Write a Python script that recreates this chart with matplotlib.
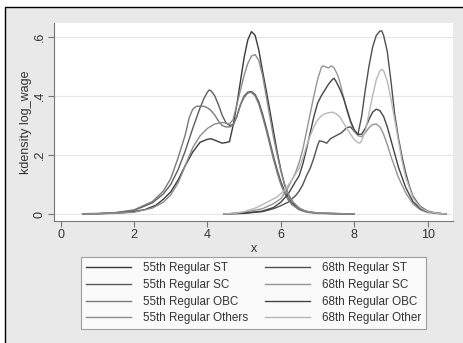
import matplotlib.pyplot as plt
from matplotlib.patches import Rectangle

plt.rcParams['font.family'] = ['Liberation Sans', 'DejaVu Sans']

# 55th round curves (x, density)
x55_st = [0.6, 1.0, 1.5, 2.0, 2.3, 2.6, 2.8, 3.0, 3.2, 3.4, 3.6, 3.8, 4.0, 4.1, 4.2, 4.4, 4.5, 4.6, 4.7,
          4.8, 4.9, 5.0, 5.1, 5.2, 5.3, 5.4, 5.5, 5.6, 5.7, 5.8, 5.9, 6.0, 6.1, 6.2, 6.3, 6.4, 6.6, 6.8,
          7.0, 7.5, 8.0]
y55_st = [0.001, 0.001, 0.003, 0.008, 0.015, 0.03, 0.05, 0.075, 0.115, 0.165, 0.21, 0.243, 0.253, 0.255,
          0.25, 0.24, 0.242, 0.245, 0.30, 0.37, 0.45, 0.53, 0.59, 0.618, 0.605, 0.555, 0.485, 0.42, 0.35,
          0.28, 0.21, 0.15, 0.10, 0.068, 0.045, 0.028, 0.012, 0.006, 0.003, 0.001, 0.0]

x55_sc = [0.6, 1.0, 1.5, 2.0, 2.5, 2.8, 3.0, 3.2, 3.4, 3.6, 3.8, 3.9, 4.0, 4.05, 4.1, 4.2, 4.3, 4.4, 4.5,
          4.6, 4.7, 4.8, 4.9, 5.0, 5.1, 5.2, 5.3, 5.4, 5.5, 5.6, 5.7, 5.8, 5.9, 6.0, 6.1, 6.2, 6.3, 6.5,
          6.7, 7.0, 8.0]
y55_sc = [0.001, 0.001, 0.004, 0.012, 0.038, 0.068, 0.10, 0.15, 0.215, 0.29, 0.36, 0.39, 0.413, 0.42,
          0.417, 0.40, 0.37, 0.335, 0.31, 0.30, 0.303, 0.33, 0.37, 0.40, 0.413, 0.415, 0.405, 0.38, 0.34,
          0.295, 0.245, 0.195, 0.15, 0.11, 0.08, 0.055, 0.037, 0.017, 0.008, 0.003, 0.0]

x55_obc = [0.6, 1.0, 1.5, 2.0, 2.5, 2.8, 3.0, 3.2, 3.4, 3.5, 3.6, 3.7, 3.9, 4.0, 4.1, 4.2, 4.3, 4.4, 4.5,
           4.6, 4.7, 4.8, 4.9, 5.0, 5.1, 5.2, 5.3, 5.4, 5.5, 5.6, 5.7, 5.8, 5.9, 6.0, 6.1, 6.2, 6.3, 6.5,
           6.7, 7.0, 8.0]
y55_obc = [0.001, 0.002, 0.005, 0.014, 0.042, 0.078, 0.12, 0.19, 0.27, 0.325, 0.355, 0.365, 0.365, 0.36,
           0.35, 0.335, 0.315, 0.30, 0.295, 0.295, 0.30, 0.33, 0.37, 0.395, 0.41, 0.412, 0.40, 0.372,
           0.33, 0.285, 0.235, 0.185, 0.14, 0.10, 0.07, 0.048, 0.032, 0.014, 0.006, 0.002, 0.0]

x55_oth = [0.6, 1.0, 1.5, 2.0, 2.5, 2.8, 3.0, 3.2, 3.4, 3.6, 3.8, 4.0, 4.2, 4.4, 4.6, 4.7, 4.8, 4.9, 5.0,
           5.1, 5.2, 5.3, 5.4, 5.5, 5.6, 5.7, 5.8, 5.9, 6.0, 6.1, 6.2, 6.3, 6.5, 6.7, 7.0, 8.0]
y55_oth = [0.0, 0.001, 0.002, 0.006, 0.02, 0.04, 0.065, 0.105, 0.165, 0.225, 0.265, 0.29, 0.305, 0.31,
           0.305, 0.32, 0.37, 0.42, 0.47, 0.51, 0.535, 0.54, 0.52, 0.47, 0.40, 0.33, 0.26, 0.20, 0.145,
           0.10, 0.068, 0.045, 0.02, 0.009, 0.004, 0.0]

# 68th round curves
x68_st = [4.45, 5.0, 5.5, 5.8, 6.0, 6.2, 6.4, 6.5, 6.6, 6.7, 6.8, 6.9, 7.0, 7.05, 7.15, 7.25, 7.35, 7.5,
          7.65, 7.8, 7.9, 8.0, 8.1, 8.2, 8.3, 8.4, 8.5, 8.6, 8.7, 8.75, 8.8, 8.9, 9.0, 9.1, 9.2, 9.3,
          9.4, 9.5, 9.6, 9.8, 10.0, 10.2, 10.5]
y68_st = [0.0, 0.002, 0.008, 0.018, 0.028, 0.04, 0.062, 0.078, 0.10, 0.13, 0.155, 0.19, 0.232, 0.248,
          0.245, 0.24, 0.255, 0.265, 0.275, 0.293, 0.295, 0.28, 0.27, 0.33, 0.42, 0.50, 0.565, 0.605,
          0.62, 0.62, 0.605, 0.55, 0.45, 0.34, 0.26, 0.195, 0.14, 0.095, 0.06, 0.025, 0.01, 0.004, 0.0]

x68_sc = [4.45, 5.0, 5.5, 5.8, 6.0, 6.2, 6.4, 6.5, 6.6, 6.7, 6.8, 6.9, 7.0, 7.1, 7.15, 7.25, 7.3, 7.38,
          7.45, 7.55, 7.6, 7.7, 7.8, 7.9, 8.0, 8.1, 8.2, 8.3, 8.4, 8.5, 8.6, 8.7, 8.8, 8.9, 9.0, 9.2,
          9.4, 9.6, 9.8, 10.0, 10.3, 10.5]
y68_sc = [0.0, 0.006, 0.018, 0.035, 0.052, 0.09, 0.14, 0.175, 0.22, 0.28, 0.34, 0.40, 0.455, 0.495, 0.502,
          0.497, 0.495, 0.502, 0.495, 0.47, 0.45, 0.40, 0.35, 0.31, 0.28, 0.265, 0.262, 0.275, 0.292,
          0.303, 0.305, 0.295, 0.27, 0.235, 0.195, 0.125, 0.072, 0.034, 0.014, 0.005, 0.001, 0.0]

x68_obc = [4.45, 5.0, 5.5, 5.8, 6.0, 6.2, 6.4, 6.5, 6.6, 6.7, 6.8, 6.9, 7.0, 7.1, 7.2, 7.3, 7.4, 7.45,
           7.5, 7.6, 7.7, 7.8, 7.9, 8.0, 8.1, 8.2, 8.3, 8.4, 8.5, 8.6, 8.7, 8.8, 8.9, 9.0, 9.2, 9.4, 9.6,
           9.8, 10.0, 10.3, 10.5]
y68_obc = [0.0, 0.003, 0.01, 0.022, 0.04, 0.068, 0.11, 0.13, 0.17, 0.22, 0.275, 0.33, 0.375, 0.40, 0.42,
           0.44, 0.455, 0.46, 0.45, 0.425, 0.395, 0.355, 0.315, 0.285, 0.27, 0.27, 0.29, 0.32, 0.345,
           0.355, 0.35, 0.33, 0.295, 0.25, 0.16, 0.09, 0.042, 0.018, 0.007, 0.002, 0.0]

x68_oth = [4.45, 4.8, 5.0, 5.3, 5.6, 5.9, 6.1, 6.3, 6.5, 6.6, 6.7, 6.8, 6.9, 7.0, 7.1, 7.2, 7.3, 7.4, 7.5,
           7.6, 7.7, 7.8, 7.9, 8.0, 8.1, 8.15, 8.2, 8.3, 8.4, 8.5, 8.6, 8.7, 8.75, 8.8, 8.9, 9.0, 9.1,
           9.2, 9.3, 9.4, 9.6, 9.8, 10.0, 10.3, 10.5]
y68_oth = [0.0, 0.003, 0.008, 0.02, 0.038, 0.058, 0.08, 0.115, 0.155, 0.19, 0.23, 0.265, 0.295, 0.318,
           0.332, 0.34, 0.343, 0.345, 0.34, 0.33, 0.31, 0.29, 0.27, 0.252, 0.242, 0.24, 0.248, 0.28, 0.34,
           0.40, 0.455, 0.485, 0.49, 0.485, 0.45, 0.39, 0.32, 0.25, 0.18, 0.125, 0.055, 0.022, 0.008,
           0.002, 0.0]

series = [
    ('55th Regular ST', x55_st, y55_st, '#3a3a3a'),
    ('68th Regular ST', x68_st, y68_st, '#505050'),
    ('55th Regular SC', x55_sc, y55_sc, '#5c5c5c'),
    ('68th Regular SC', x68_sc, y68_sc, '#959595'),
    ('55th Regular OBC', x55_obc, y55_obc, '#7a7a7a'),
    ('68th Regular OBC', x68_obc, y68_obc, '#444444'),
    ('55th Regular Others', x55_oth, y55_oth, '#8c8c8c'),
    ('68th Regular Other', x68_oth, y68_oth, '#b8b8b8'),
]

fig = plt.figure(figsize=(4.63, 3.43), dpi=100)
fig.patch.set_facecolor('white')
fig.patches.append(Rectangle((5 / 463, -0.05), 1.1, 1 - 7 / 343 + 0.05, transform=fig.transFigure,
                             facecolor='#e9e9e9', edgecolor='black', linewidth=1.0, zorder=-5))

ax = fig.add_axes([54 / 463, 1 - 221 / 343, 399 / 463, 198 / 343])
ax.set_zorder(2)
ax.set_facecolor('white')

lines = {}
for name, xs, ys, col in series:
    lines[name], = ax.plot(xs, ys, color=col, linewidth=1.0)

ax.set_xlim(-0.18, 10.69)
ax.set_ylim(-0.0237, 0.647)
ax.set_xticks([0, 2, 4, 6, 8, 10])
ax.set_yticks([0, 0.2, 0.4, 0.6])
ax.set_yticklabels(['0', '.2', '.4', '.6'], rotation=90, va='center')
ax.grid(axis='y', color='#e6e6e6', linewidth=0.8)
ax.set_axisbelow(True)
for s in ['top', 'right']:
    ax.spines[s].set_visible(False)
for s in ['left', 'bottom']:
    ax.spines[s].set_color('#777777')
    ax.spines[s].set_linewidth(0.8)
ax.tick_params(colors='#777777', labelcolor='#333333', labelsize=9, length=4, width=0.8, pad=2)
ax.set_xlabel('x', fontsize=9, color='#333333', labelpad=1)
ax.set_ylabel('kdensity log_wage', fontsize=9, color='#333333', labelpad=1)

order = ['55th Regular ST', '55th Regular SC', '55th Regular OBC', '55th Regular Others',
         '68th Regular ST', '68th Regular SC', '68th Regular OBC', '68th Regular Other']
leg = fig.legend([lines[n] for n in order], order, ncol=2, loc='center',
                 bbox_to_anchor=(253.5 / 463, 1 - 293.3 / 343), fontsize=8.35, frameon=True,
                 fancybox=False, edgecolor='#888888', handlelength=3.9, handletextpad=1.0,
                 columnspacing=1.5, labelspacing=0.4, borderpad=0.45)
leg.get_frame().set_linewidth(0.8)
leg.set_zorder(3)
for t in leg.get_texts():
    t.set_color('#333333')

fig.savefig('out.png', dpi=100)
